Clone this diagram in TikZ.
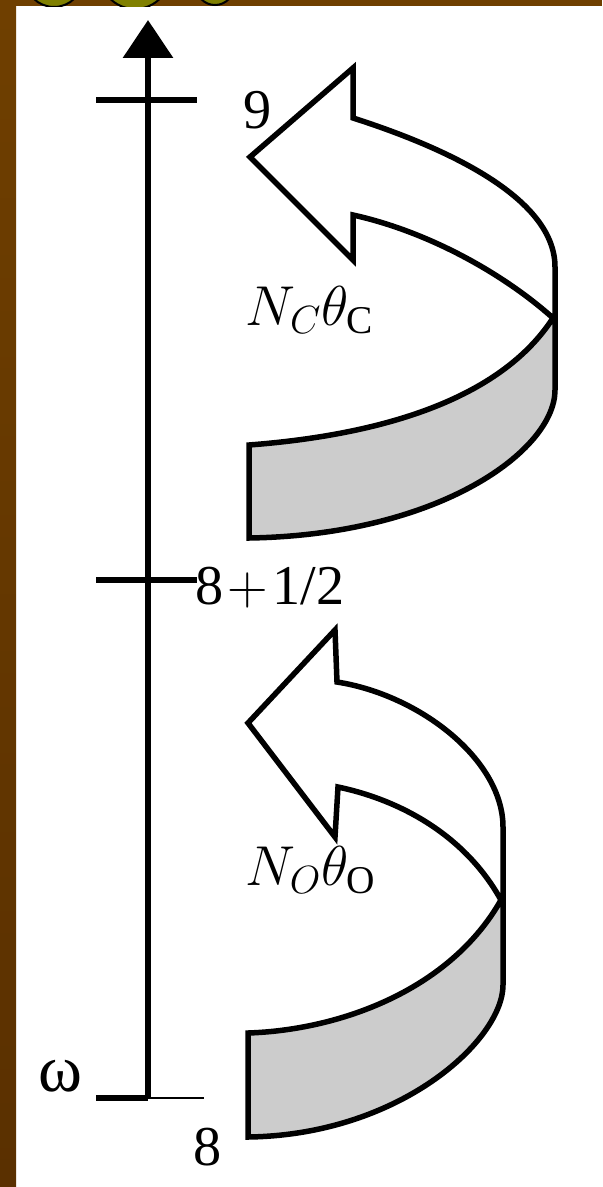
\documentclass[tikz,border=0pt]{standalone}
\usepackage{fix-cm}
\usepackage{fontspec}
\setmainfont{Liberation Serif}
\usepackage{tikz}
\usetikzlibrary{arrows.meta}
\definecolor{slidebrown}{HTML}{6F3F00}
\definecolor{slidegold}{HTML}{9C6200}
\definecolor{slidedark}{HTML}{5A3000}
\definecolor{slideolive}{HTML}{808000}
\definecolor{bandgrey}{HTML}{CCCCCC}

\begin{document}
\begin{tikzpicture}[x=0.02cm, y=-0.02cm,
    ribbon/.style={draw=black, line width=0.11cm},
    ticklbl/.style={font=\fontsize{32}{34}\selectfont, inner sep=0pt},
    rotlbl/.style={font=\fontsize{32}{34}\selectfont, inner sep=0pt}]
    \useasboundingbox (0,0) rectangle (602,1187);

    % Slide frame
    \fill[white] (0,0) rectangle (602,1187);
    \fill[slidebrown] (0,0) rectangle (602,6);
    \shade[top color=slidebrown, middle color=slidegold, bottom color=slidedark] (0,0) rectangle (16,1187);
    \begin{scope}
        \clip (16,0) rectangle (602,6);
        \draw[fill=slideolive, line width=0.04cm] (54,-22) circle[radius=0.58cm];
        \draw[fill=slideolive, line width=0.04cm] (135,-26) circle[radius=0.7cm];
        \draw[fill=slideolive, line width=0.04cm] (215,-14) circle[radius=0.38cm];
    \end{scope}

    % Axis
    \coordinate (axbot) at (148,1098);
    \coordinate (axtop) at (148,20);
    \draw[line width=0.13cm, -{Triangle[length=0.76cm, width=0.98cm]}] (axbot) -- (axtop);

    % Ticks
    \coordinate (t9l) at (96,100);   \coordinate (t9r) at (197,100);
    \coordinate (thl) at (96,580);   \coordinate (thr) at (197,580);
    \coordinate (t8l) at (96,1098);  \coordinate (t8r) at (204,1098);
    \draw[line width=0.13cm] (t9l) -- (t9r);
    \draw[line width=0.13cm] (thl) -- (thr);
    \draw[line width=0.11cm] (t8l) -- (axbot);
    \draw[line width=0.05cm] (axbot) -- (t8r);

    \node[ticklbl] (n9) at (258,110) {9};
    \node[ticklbl] (nhalf) at (270,588) {8\kern0.08cm$+$\kern0.08cm1/2};
    \node[ticklbl] (n8) at (208,1147) {8};
    \node[font=\fontsize{38}{40}\selectfont, inner sep=0pt] (nw) at (60,1076) {ω};

    % Upper rotation (C)
    \draw[ribbon, fill=white] (353,118) -- (353,68) -- (250,157) -- (353,260) -- (353,215)
        .. controls (430,232) and (505,275) .. (553,318) -- (555,318) -- (555,267)
        .. controls (555,200) and (453,150) .. (353,118) -- cycle;
    \draw[ribbon, fill=bandgrey] (249,445) .. controls (380,435) and (500,400) .. (553,318)
        -- (555,318) -- (555,390) .. controls (555,450) and (440,535) .. (249,538) -- cycle;
    \node[rotlbl] (nc) at (310,310) {$N_C\theta_{\mathrm{C}}$};

    % Lower rotation (O)
    \draw[ribbon, fill=white] (337,682) -- (335,630) -- (248,723) -- (335,837) -- (338,787)
        .. controls (400,800) and (465,835) .. (501,900) -- (503,900) -- (503,827)
        .. controls (503,760) and (420,695) .. (337,682) -- cycle;
    \draw[ribbon, fill=bandgrey] (248,1033) .. controls (340,1030) and (450,990) .. (501,900)
        -- (503,900) -- (503,985) .. controls (503,1040) and (400,1135) .. (248,1137) -- cycle;
    \node[rotlbl] (no) at (311,870) {$N_O\theta_{\mathrm{O}}$};
\end{tikzpicture}
\end{document}
